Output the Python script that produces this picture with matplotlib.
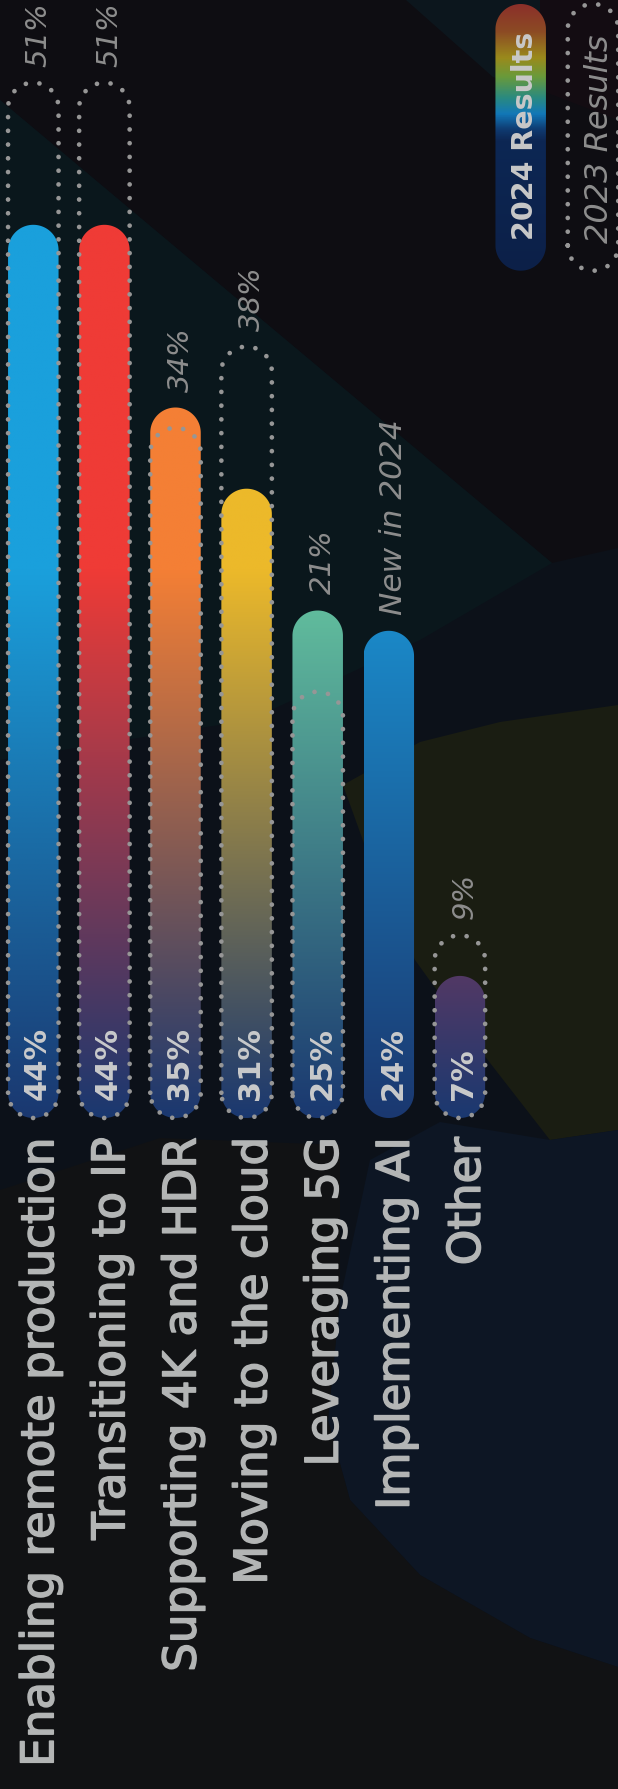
import numpy as np
import matplotlib
matplotlib.use('Agg')
import matplotlib.pyplot as plt
import matplotlib.patheffects as pe
from matplotlib.path import Path
from matplotlib.patches import PathPatch, Polygon
from matplotlib.colors import to_rgb, LinearSegmentedColormap

# ---------------- data ----------------
categories = ["Enabling remote production", "Transitioning to IP", "Supporting 4K and HDR",
              "Moving to the cloud", "Leveraging 5G", "Implementing AI", "Other"]
values_2024 = [44, 44, 35, 31, 25, 24, 7]
values_2023 = [51, 51, 34, 38, 21, None, 9]
labels_2023 = ["51%", "51%", "34%", "38%", "21%", "New in 2024", "9%"]
bar_colors = ['#1aa0dc', '#ef3b36', '#f47f35', '#ecb92a', '#66c6a0', '#1b92d2', '#f23a44']
base_navy = '#1a3870'
legend_labels = ["2024 Results", "2023 Results"]

# ---------------- layout ----------------
W, H = 618, 1789
fig = plt.figure(figsize=(W / 100, H / 100), dpi=100)
fig.patch.set_facecolor('#0c1119')

bg = fig.add_axes([0, 0, 1, 1], zorder=0)
bg.set_xlim(0, W)
bg.set_ylim(H, 0)
bg.axis('off')

def poly(pts, color):
    bg.add_patch(Polygon(pts, closed=True, facecolor=color, edgecolor='none'))

# background decoration
poly([(0, 0), (618, 0), (618, 548), (552, 563), (0, 100)], '#0e0d12')
poly([(0, 100), (552, 563), (420, 640), (250, 720), (0, 760)], '#0a171c')
poly([(406, 0), (540, 0), (540, 90), (493, 77)], '#0c161d')
poly([(540, 0), (618, 0), (618, 120), (540, 90)], '#130c12')
poly([(618, 705), (500, 722), (420, 742), (343, 785), (370, 860), (415, 960),
      (480, 1050), (550, 1140), (618, 1130)], '#1a1d12')
poly([(618, 1130), (550, 1140), (440, 1122), (370, 1160), (340, 1300), (328, 1420),
      (350, 1500), (420, 1575), (530, 1638), (618, 1667)], '#0d1624')
poly([(0, 1190), (160, 1138), (340, 1145), (340, 1300), (328, 1420), (350, 1500),
      (420, 1575), (530, 1638), (618, 1667), (618, 1789), (0, 1789)], '#111214')

ax = fig.add_axes([0, 0, 1, 1], zorder=1)
ax.axis('off')

PX_X, X0 = 71.1, 33.3      # pixels per category step, first bar centre
PX_Y, Y0 = 20.3, 1118.0    # pixels per percent, zero line
BAR_W = 50.5
hx = BAR_W / 2 / PX_X
ry = BAR_W / 2 / PX_Y


def pill(c, y0, y1):
    th_top = np.linspace(np.pi, 0, 50)
    th_bot = np.linspace(0, -np.pi, 50)
    xs = np.concatenate([[c - hx], c + hx * np.cos(th_top), [c + hx], c + hx * np.cos(th_bot)])
    ys = np.concatenate([[y0 + ry], y1 - ry + ry * np.sin(th_top), [y0 + ry], y0 + ry + ry * np.sin(th_bot)])
    v = np.column_stack([xs, ys])
    return Path(np.vstack([v, v[:1]]), closed=True)


DOT = dict(facecolor='none', edgecolor='#969696', lw=3.4, linestyle=(0, (0.01, 2.9)),
           capstyle='round')
thick = [pe.withStroke(linewidth=1.1, foreground='#b3b5b5')]

positions = np.arange(len(categories))
for i, (cat, v24, v23, lab, col) in enumerate(zip(categories, values_2024, values_2023,
                                                    labels_2023, bar_colors)):
    c = positions[i]
    path = pill(c, 0, v24)
    patch = PathPatch(path, transform=ax.transData, facecolor='none', edgecolor='none', zorder=2)
    ax.add_patch(patch)
    ys = np.linspace(0, v24, 400)
    f = np.clip(ys / 27.0, 0, 1)[:, None]
    img = (1 - f) * np.array(to_rgb(base_navy)) + f * np.array(to_rgb(col))
    im = ax.imshow(img[:, None, :], extent=(c - hx, c + hx, 0, v24), origin='lower',
                   aspect='auto', interpolation='bilinear', zorder=2)
    im.set_clip_path(patch)

    if v23 is not None:
        ax.add_patch(PathPatch(pill(c, 0, v23), transform=ax.transData, zorder=3, **DOT))

    # value inside bar
    ax.text(c + 12.5 / PX_X, 18 / PX_Y, f"{v24}%", rotation=90, rotation_mode='anchor',
            ha='left', va='baseline', fontsize=22, fontweight='bold', color='#c9cacb', zorder=4)

    # 2023 / note label above
    top = max(v24, v23 if v23 is not None else 0)
    fs = 22.5 if v23 is None else 21
    ax.text(c + 13 / PX_X, top + 16 / PX_Y, lab, rotation=90, rotation_mode='anchor',
            ha='left', va='baseline', fontsize=fs, style='italic', color='#8d8d8d', zorder=4)

    # category label
    ax.text(c + 20 / PX_X, -19 / PX_Y, cat, rotation=90, rotation_mode='anchor',
            ha='right', va='baseline', fontsize=32.5, color='#b3b5b5', zorder=4,
            path_effects=thick)

# ---------------- legend ----------------
leg_top = (Y0 - 4) / PX_Y
leg_bot = (Y0 - 270.7) / PX_Y
c24 = (520.7 - X0) / PX_X
c23 = (593.0 - X0) / PX_X

lp = PathPatch(pill(c24, leg_bot, leg_top), transform=ax.transData, facecolor='none',
               edgecolor='none', zorder=2)
ax.add_patch(lp)
stops = [(0.0, '#0c2048'), (0.49, '#0d2754'), (0.53, '#0f3a70'), (0.59, '#1278b8'),
         (0.65, '#2a8a80'), (0.73, '#6a9a3a'), (0.80, '#9a8a1c'), (0.90, '#8c4a24'),
         (1.0, '#8b302a')]
cmap = LinearSegmentedColormap.from_list('leg', stops)
grad = np.linspace(0, 1, 400)[:, None]
lim = ax.imshow(grad, cmap=cmap, extent=(c24 - hx, c24 + hx, leg_bot, leg_top),
                origin='lower', aspect='auto', interpolation='bilinear', zorder=2)
lim.set_clip_path(lp)
ax.text((533 - X0) / PX_X, (Y0 - 240) / PX_Y, legend_labels[0], rotation=90,
        rotation_mode='anchor', ha='left', va='baseline', fontsize=20.5, fontweight='bold',
        color='#c8c8c8', zorder=4)

ax.add_patch(PathPatch(pill(c23, leg_bot, leg_top), transform=ax.transData, zorder=3, **DOT))
ax.text((608 - X0) / PX_X, (Y0 - 243) / PX_Y, legend_labels[1], rotation=90,
        rotation_mode='anchor', ha='left', va='baseline', fontsize=23, style='italic',
        color='#8d8d8d', zorder=4)

ax.set_xlim(-X0 / PX_X, (W - X0) / PX_X)
ax.set_ylim((Y0 - H) / PX_Y, Y0 / PX_Y)

fig.savefig('out.png', dpi=100, facecolor=fig.get_facecolor())
